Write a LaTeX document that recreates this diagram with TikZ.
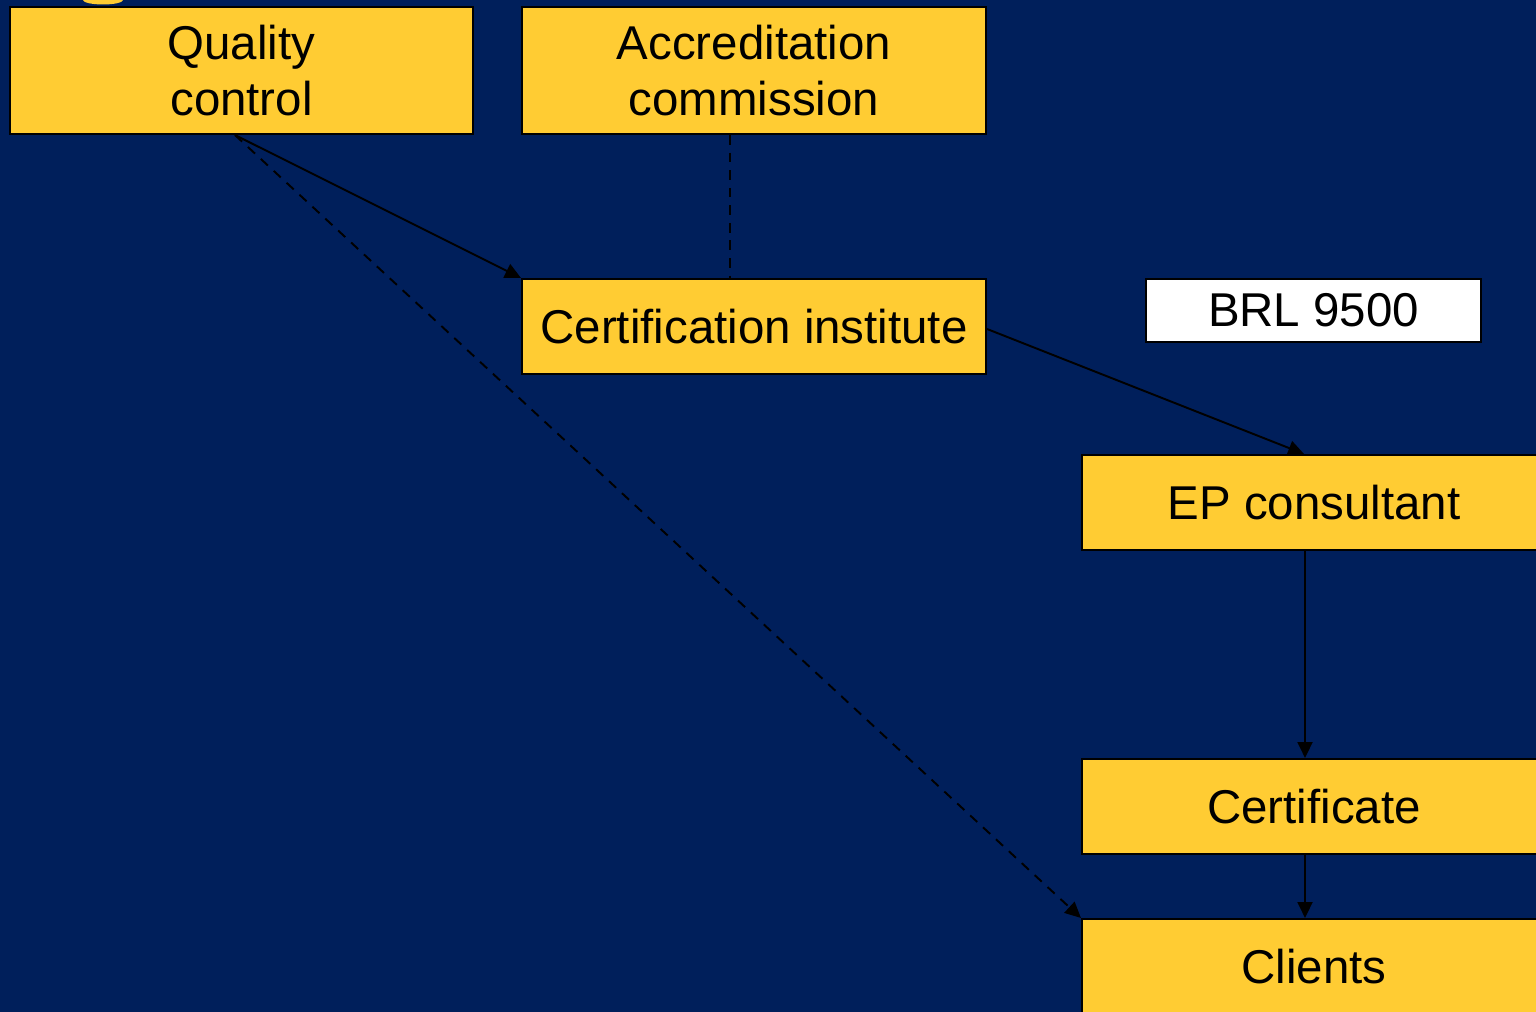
\documentclass[tikz,border=0pt]{standalone}
\usepackage{fontspec}
\setmainfont{Liberation Sans}
\usetikzlibrary{arrows.meta}
\usetikzlibrary{positioning}
\definecolor{navy}{RGB}{0,31,91}
\definecolor{boxyellow}{RGB}{255,204,51}
\begin{document}
\begin{tikzpicture}[every node/.style={draw,line width=1.2pt,inner sep=0pt,align=center,
    font=\fontsize{27}{32}\selectfont},
  ybox/.style={fill=boxyellow,minimum width=9.28cm},
  link/.style={line width=1.1pt,-{Triangle[length=9pt,width=8.5pt]}},
  dashlink/.style={line width=1.1pt,dash pattern=on 5.5pt off 4.5pt}]
  \useasboundingbox (0,0) rectangle (30.72,-20.24);
  \clip (0,0) rectangle (30.72,-20.24);
  \fill[navy] (0,0) rectangle (30.72,-20.24);
  \fill[boxyellow] (1.66,0) arc[start angle=180,end angle=360,x radius=0.4,y radius=0.09];
  \node[ybox,minimum height=2.54cm,minimum width=9.26cm] (qc) at (4.83,-1.41){Quality\\control};
  \node[ybox,minimum height=2.54cm] (ac) at (15.08,-1.41){Accreditation\\commission};
  \node[ybox,minimum height=1.90cm] (ci) at (15.08,-6.53){Certification institute};
  \node[fill=white,minimum width=6.70cm,minimum height=1.26cm] (brl) at (26.27,-6.21){BRL 9500};
  \node[ybox,minimum height=1.90cm] (ep) at (26.28,-10.05){EP consultant};
  \node[ybox,minimum height=1.90cm] (cert) at (26.28,-16.13){Certificate};
  \node[ybox,minimum height=1.90cm] (cl) at (26.28,-19.33){Clients};
  \draw[link]([xshift=-0.13cm]qc.south)--(ci.north west);
  \draw[link,dashlink]([xshift=-0.13cm]qc.south)--(cl.north west);
  \draw[dashlink]([xshift=-0.48cm]ac.south)--([xshift=-0.48cm]ci.north);
  \draw[link]([yshift=-0.05cm]ci.east)--([xshift=-0.2cm]ep.north);
  \draw[link]([xshift=-0.18cm]ep.south)--([xshift=-0.18cm]cert.north);
  \draw[link]([xshift=-0.18cm]cert.south)--([xshift=-0.18cm]cl.north);
\end{tikzpicture}
\end{document}
